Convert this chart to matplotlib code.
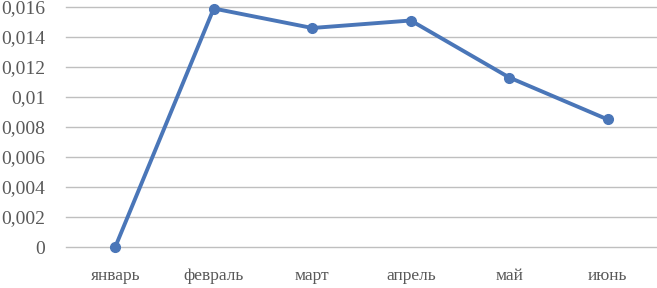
import matplotlib
matplotlib.use("Agg")
import matplotlib.pyplot as plt
from matplotlib.ticker import FuncFormatter

months = ["январь", "февраль", "март", "апрель", "май", "июнь"]
values = [0.0, 0.0159, 0.0146, 0.0151, 0.0113, 0.0085]
y_ticks = [0, 0.002, 0.004, 0.006, 0.008, 0.010, 0.012, 0.014, 0.016]

plt.rcParams['font.family'] = ['Liberation Serif', 'DejaVu Serif']

fig = plt.figure(figsize=(6.57, 2.88), dpi=100)
ax = fig.add_axes([66 / 657, 1 - 247 / 288, 1 - 66 / 657, 240 / 288])

x = range(len(months))
ax.plot(x, values, color='#4a76b8', linewidth=2.8, marker='o', markersize=7,
        clip_on=False, zorder=3)

ax.set_xlim(-0.5, len(months) - 0.5)
ax.set_ylim(0, 0.016)
ax.set_xticks(list(x))
ax.set_xticklabels(months)
ax.set_yticks(y_ticks)


def comma_fmt(v, pos):
    s = f"{v:.3f}".rstrip('0').rstrip('.')
    return s.replace('.', ',')


ax.yaxis.set_major_formatter(FuncFormatter(comma_fmt))
ax.grid(axis='y', color='#bfbfbf', linewidth=1.0)
for gl in ax.get_ygridlines():
    gl.set_clip_on(False)
ax.set_axisbelow(True)
for side in ['top', 'right', 'left', 'bottom']:
    ax.spines[side].set_visible(False)
ax.tick_params(length=0, colors='#595959')
ax.tick_params(axis='y', labelsize=14, pad=15)
ax.tick_params(axis='x', labelsize=12.5, pad=15)

fig.savefig('out.png', dpi=100)
